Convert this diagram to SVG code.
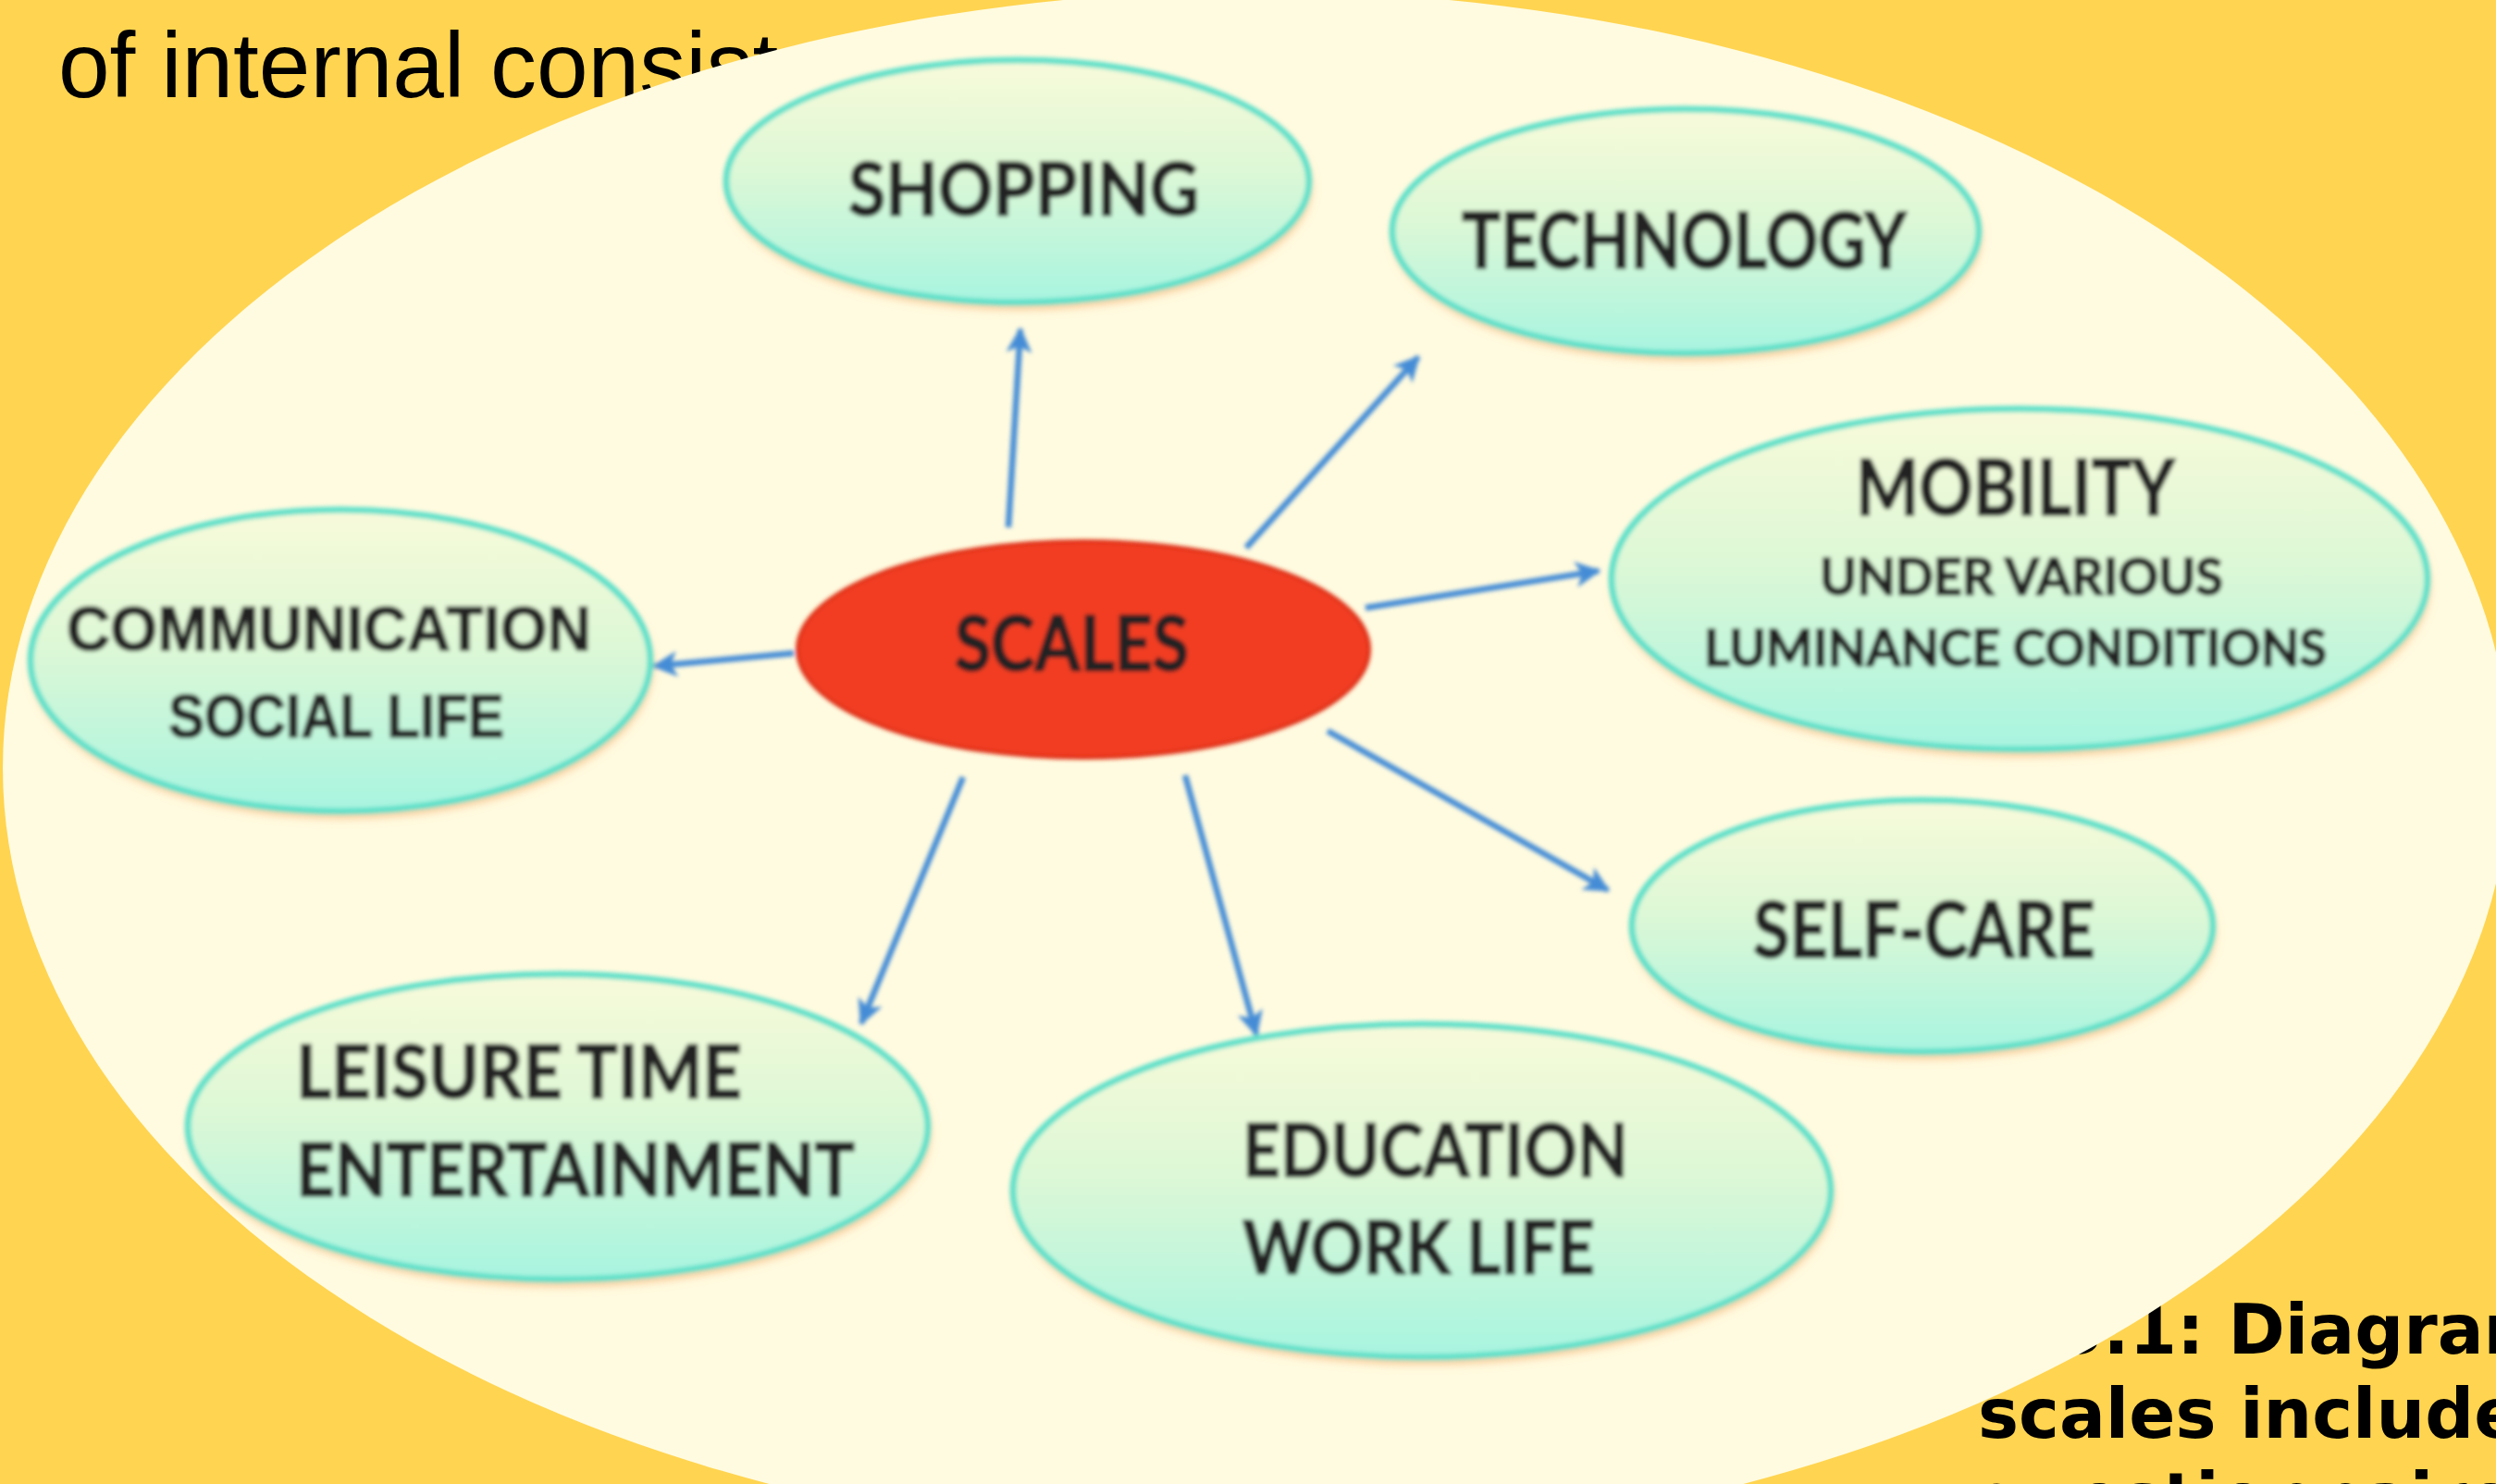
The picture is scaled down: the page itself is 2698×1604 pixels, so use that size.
<svg xmlns="http://www.w3.org/2000/svg" width="2698" height="1604" viewBox="0 0 2698 1604">
  <defs>
    <style>
      .page-text { font-family: "Liberation Sans", Arial, sans-serif; fill: #000; }
      .caption { font-family: "DejaVu Sans", "Liberation Sans", sans-serif; font-weight: bold; font-size: 74px; fill: #000; }
      .node-shape { fill: url(#nodeFill); stroke: #5FE0C9; stroke-width: 7; }
      .node-shadow { fill: #F7C48E; }
      .label { font-family: Lato, "Open Sans", "Liberation Sans", sans-serif; font-weight: bold; fill: #242424; stroke: #242424; stroke-width: 1.6; }
      .label-sans { font-family: "Liberation Sans", Arial, sans-serif; font-weight: bold; fill: #242424; stroke: #242424; stroke-width: 1.2; }
      .link { stroke: #458CD6; stroke-width: 6.5; fill: none; marker-end: url(#arrowHead); }
    </style>
    <linearGradient id="nodeFill" x1="0" y1="0" x2="0" y2="1">
      <stop offset="0" stop-color="#F8FADA"/>
      <stop offset="0.45" stop-color="#DDF8D6"/>
      <stop offset="1" stop-color="#A8F4E0"/>
    </linearGradient>
    <marker id="arrowHead" viewBox="0 0 10 10" refX="9" refY="5" markerUnits="userSpaceOnUse" markerWidth="34" markerHeight="28" orient="auto">
      <path d="M0,0 L10,5 L0,10 L2.5,5 z" fill="#458CD6"/>
    </marker>
    <filter id="soft" x="-5%" y="-5%" width="110%" height="110%">
      <feGaussianBlur stdDeviation="2"/>
    </filter>
    <filter id="shadowBlur" x="-10%" y="-10%" width="120%" height="130%">
      <feGaussianBlur stdDeviation="4"/>
    </filter>
  </defs>

  <!-- page background -->
  <rect x="0" y="0" width="2698" height="1604" fill="#FFD450"/>

  <!-- surrounding document text -->
  <text class="page-text" x="63" y="105" font-size="100">of internal consist</text>
  <text class="caption" x="2222" y="1463">3.1: Diagram</text>
  <text class="caption" x="2138" y="1554">scales include</text>
  <text class="caption" x="2138" y="1645">questionnaire</text>

  <!-- cream backdrop -->
  <ellipse cx="1358" cy="830" rx="1355" ry="840" fill="#FFFBE0"/>

  <g filter="url(#soft)">
    <!-- connectors -->
    <g id="connectors">
      <line class="link" x1="1090" y1="570" x2="1103" y2="356"/>
      <line class="link" x1="1347" y1="592" x2="1533" y2="386"/>
      <line class="link" x1="1476" y1="657" x2="1728" y2="617"/>
      <line class="link" x1="858" y1="706" x2="707" y2="720"/>
      <line class="link" x1="1435" y1="790" x2="1738" y2="962"/>
      <line class="link" x1="1041" y1="840" x2="931" y2="1106"/>
      <line class="link" x1="1281" y1="838" x2="1358" y2="1118"/>
    </g>

    <g id="node-scales">
      <ellipse cx="1171" cy="702" rx="309" ry="117" fill="#F23D22" stroke="#DE2F17" stroke-width="4"/>
      <text class="label" x="1032" y="725" font-size="82" textLength="253" lengthAdjust="spacingAndGlyphs">SCALES</text>
    </g>

    <g id="node-shopping">
      <ellipse class="node-shadow" cx="1102" cy="203" rx="315" ry="131" filter="url(#shadowBlur)"/>
      <ellipse class="node-shape" cx="1100" cy="196" rx="315" ry="131"/>
      <text class="label" x="917" y="233" font-size="81" textLength="379" lengthAdjust="spacingAndGlyphs">SHOPPING</text>
    </g>

    <g id="node-technology">
      <ellipse class="node-shadow" cx="1824" cy="257" rx="317" ry="132" filter="url(#shadowBlur)"/>
      <ellipse class="node-shape" cx="1822" cy="250" rx="317" ry="132"/>
      <text class="label" x="1580" y="290" font-size="84" textLength="481" lengthAdjust="spacingAndGlyphs">TECHNOLOGY</text>
    </g>

    <g id="node-mobility">
      <ellipse class="node-shadow" cx="2185" cy="633" rx="441" ry="184" filter="url(#shadowBlur)"/>
      <ellipse class="node-shape" cx="2183" cy="626" rx="441" ry="184"/>
      <text class="label" x="2006" y="557" font-size="84" textLength="345" lengthAdjust="spacingAndGlyphs">MOBILITY</text>
      <text class="label" x="1967" y="643" font-size="56" textLength="436" lengthAdjust="spacingAndGlyphs">UNDER VARIOUS</text>
      <text class="label" x="1842" y="720" font-size="56" textLength="673" lengthAdjust="spacingAndGlyphs">LUMINANCE CONDITIONS</text>
    </g>

    <g id="node-communication">
      <ellipse class="node-shadow" cx="370" cy="721" rx="335" ry="163" filter="url(#shadowBlur)"/>
      <ellipse class="node-shape" cx="368" cy="714" rx="335" ry="163"/>
      <text class="label-sans" x="72" y="703" font-size="69" textLength="567" lengthAdjust="spacingAndGlyphs">COMMUNICATION</text>
      <text class="label-sans" x="182" y="797" font-size="66" textLength="363" lengthAdjust="spacingAndGlyphs">SOCIAL LIFE</text>
    </g>

    <g id="node-self-care">
      <ellipse class="node-shadow" cx="2080" cy="1008" rx="314" ry="136" filter="url(#shadowBlur)"/>
      <ellipse class="node-shape" cx="2078" cy="1001" rx="314" ry="136"/>
      <text class="label" x="1895" y="1035" font-size="84" textLength="370" lengthAdjust="spacingAndGlyphs">SELF-CARE</text>
    </g>

    <g id="node-leisure">
      <ellipse class="node-shadow" cx="605" cy="1225" rx="400" ry="165" filter="url(#shadowBlur)"/>
      <ellipse class="node-shape" cx="603" cy="1218" rx="400" ry="165"/>
      <text class="label" x="320" y="1187" font-size="80" textLength="482" lengthAdjust="spacingAndGlyphs">LEISURE TIME</text>
      <text class="label" x="320" y="1293" font-size="80" textLength="604" lengthAdjust="spacingAndGlyphs">ENTERTAINMENT</text>
    </g>

    <g id="node-education">
      <ellipse class="node-shadow" cx="1539" cy="1294" rx="442" ry="180" filter="url(#shadowBlur)"/>
      <ellipse class="node-shape" cx="1537" cy="1287" rx="442" ry="180"/>
      <text class="label" x="1343" y="1272" font-size="80" textLength="417" lengthAdjust="spacingAndGlyphs">EDUCATION</text>
      <text class="label" x="1343" y="1377" font-size="80" textLength="381" lengthAdjust="spacingAndGlyphs">WORK LIFE</text>
    </g>
  </g>
</svg>
